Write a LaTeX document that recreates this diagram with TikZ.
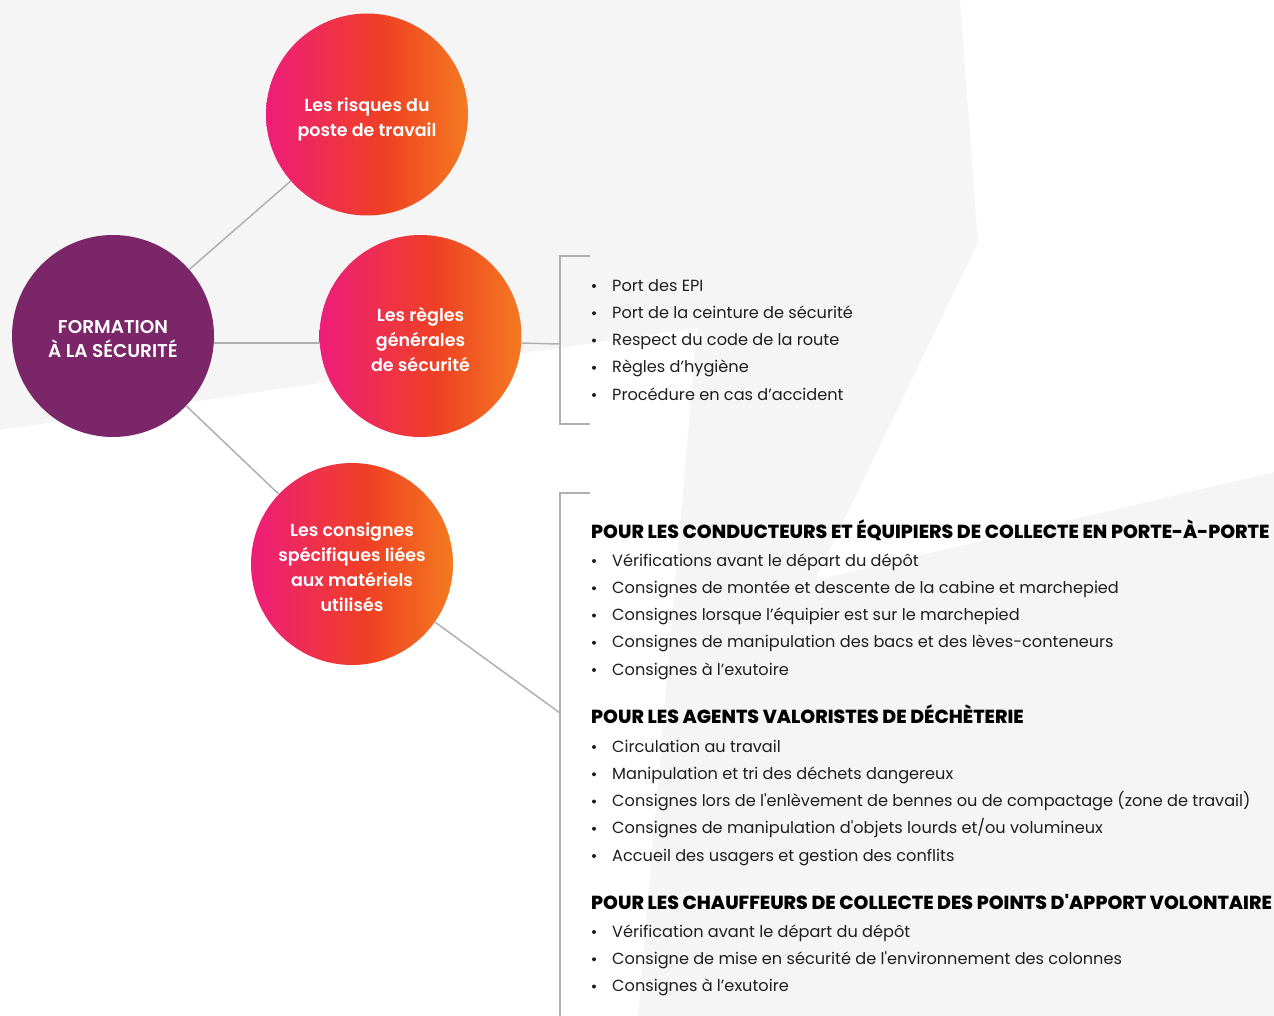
\documentclass[tikz,border=0pt]{standalone}
\usepackage{fontspec}
\setmainfont{Poppins}[Ligatures=TeXOff]
\newfontfamily\popsb{Poppins SemiBold}[Ligatures=TeXOff]
\newfontfamily\popxb{Poppins ExtraBold}[Ligatures=TeXOff]
\definecolor{bggray}{HTML}{F5F5F5}
\definecolor{purp}{HTML}{7B2669}
\definecolor{gpink}{HTML}{EE1D7B}
\definecolor{gred}{HTML}{EF4023}
\definecolor{gorange}{HTML}{F47A20}
\definecolor{linegray}{HTML}{B0B0B0}
\definecolor{txt}{HTML}{1E1E1E}
\pgfdeclarehorizontalshading{circgrad}{100bp}{color(0bp)=(gpink); color(25bp)=(gpink); color(54bp)=(gred); color(75bp)=(gorange); color(100bp)=(gorange)}
\tikzset{
  bubble/.style={circle, minimum size=202pt, inner sep=0pt},
  gradbubble/.style={bubble, shading=circgrad},
  mainbubble/.style={bubble, fill=purp},
  bubbletext/.style={align=center, inner sep=0pt, text=white, font=\popsb\fontsize{17.5}{25}\selectfont},
  maintext/.style={align=center, inner sep=0pt, text=white, font=\popsb\fontsize{18.5}{24}\selectfont},
  conn/.style={draw=linegray, line width=1.5pt},
  itemtext/.style={anchor=base west, inner sep=0pt, text=txt, font=\fontsize{16.15}{20}\selectfont},
  headtext/.style={anchor=base west, inner sep=0pt, text=black, font=\popxb\fontsize{18.9}{20}\selectfont},
  bulletdot/.style={circle, fill=txt, inner sep=0pt, minimum size=4pt},
}
\begin{document}
\begin{tikzpicture}[x=1pt,y=-1pt]
\useasboundingbox (0,0) rectangle (1274,1016);
% background
\fill[bggray] (0,0) rectangle (1274,1016);
\fill[white] (0,430) -- (697,328) -- (638,1016) -- (0,1016) -- cycle;
\fill[white] (960,0) -- (1274,0) -- (1274,472) -- (815,580) -- (978,243) -- cycle;
% bubbles
\node[mainbubble] (c0) at (113,336) {};
\node[gradbubble] (c1) at (367,114.5) {};
\node[gradbubble] (c2) at (420.5,336) {};
\node[gradbubble] (c3) at (352,564) {};
\node[maintext] (t0) at ([yshift=-3.5pt]c0.center) {FORMATION\\À LA SÉCURITÉ};
\node[bubbletext] (t1) at ([yshift=-4.5pt]c1.center) {Les risques du\\poste de travail};
\node[bubbletext] (t2) at ([yshift=-3pt]c2.center) {Les règles\\générales\\de sécurité};
\node[bubbletext] (t3) at ([yshift=-3.5pt]c3.center) {Les consignes\\spécifiques liées\\aux matériels\\utilisés};
% bracket coordinates
\coordinate (b1t) at (590,256);
\coordinate (b1tc) at (560,256);
\coordinate (b1bc) at (560,424);
\coordinate (b1b) at (590,424);
\coordinate (b1m) at (560,344);
\coordinate (b2t) at (590,493);
\coordinate (b2tc) at (560,493);
\coordinate (b2bc) at (560,1016);
\coordinate (b2m) at (560,713);
% connectors
\draw[conn] (c0) -- (c1);
\draw[conn] (c0.-4.5) -- (c2.184.5);
\draw[conn] (c0) -- (c3);
\draw[conn] (c2.-4.5) -- (b1m);
\draw[conn] (c3.-35.5) -- (b2m);
\draw[conn] (b1t) -- (b1tc) -- (b1bc) -- (b1b);
\draw[conn] (b2t) -- (b2tc) -- (b2bc);
% list 1
\foreach \t [count=\i] in {Port des EPI, Port de la ceinture de sécurité, Respect du code de la route, Règles d’hygiène, Procédure en cas d’accident}{
  \node[itemtext] (ga\i) at (612,{291+27.25*(\i-1)}) {\t};
  \node[bulletdot] (gb\i) at (594,{286+27.25*(\i-1)}) {};
}
% list 2
\node[headtext] (h1) at (591,538.5) {POUR LES CONDUCTEURS ET ÉQUIPIERS DE COLLECTE EN PORTE-À-PORTE};
\foreach \t [count=\i] in {Vérifications avant le départ du dépôt, Consignes de montée et descente de la cabine et marchepied, Consignes lorsque l’équipier est sur le marchepied, Consignes de manipulation des bacs et des lèves-conteneurs, Consignes à l’exutoire}{
  \node[itemtext] (pa\i) at (612,{566+27.25*(\i-1)}) {\t};
  \node[bulletdot] (pb\i) at (594,{561+27.25*(\i-1)}) {};
}
\node[headtext] (h2) at (591,723.5) {POUR LES AGENTS VALORISTES DE DÉCHÈTERIE};
\foreach \t [count=\i] in {Circulation au travail, Manipulation et tri des déchets dangereux, Consignes lors de l'enlèvement de bennes ou de compactage (zone de travail), Consignes de manipulation d'objets lourds et/ou volumineux, Accueil des usagers et gestion des conflits}{
  \node[itemtext] (va\i) at (612,{752+27.25*(\i-1)}) {\t};
  \node[bulletdot] (vb\i) at (594,{747+27.25*(\i-1)}) {};
}
\node[headtext] (h3) at (591,909.5) {POUR LES CHAUFFEURS DE COLLECTE DES POINTS D'APPORT VOLONTAIRE};
\foreach \t [count=\i] in {Vérification avant le départ du dépôt, Consigne de mise en sécurité de l'environnement des colonnes, Consignes à l’exutoire}{
  \node[itemtext] (ca\i) at (612,{937+27.25*(\i-1)}) {\t};
  \node[bulletdot] (cb\i) at (594,{932+27.25*(\i-1)}) {};
}
\end{tikzpicture}
\end{document}
